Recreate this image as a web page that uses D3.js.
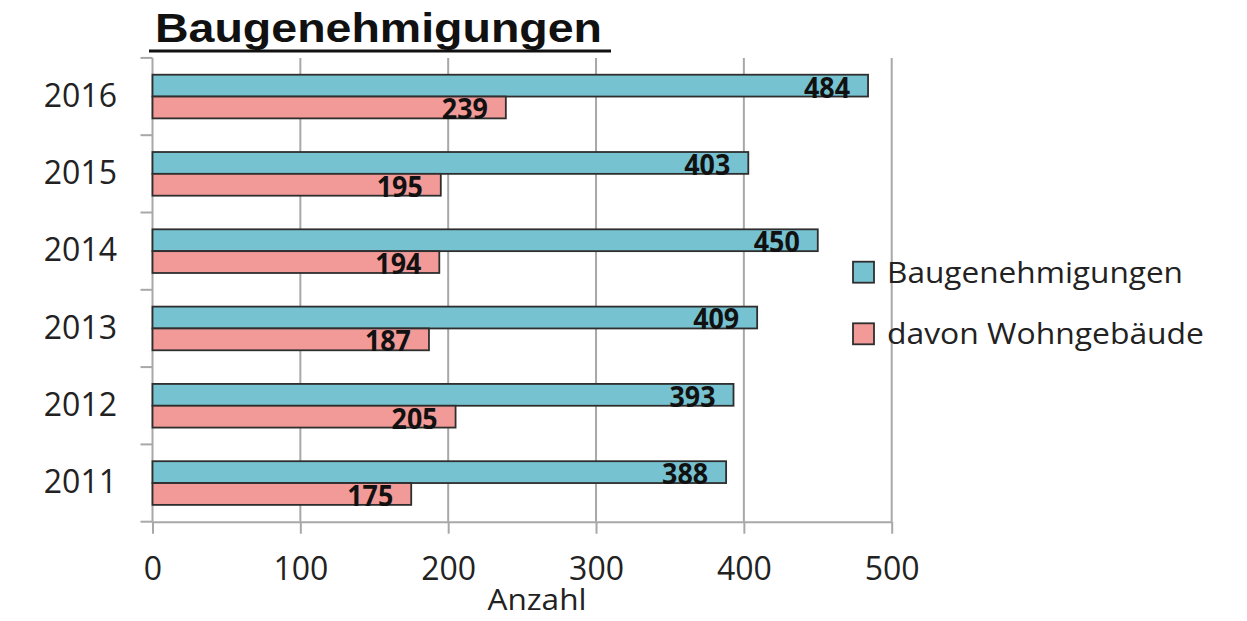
<!DOCTYPE html>
<html>
<head>
<meta charset="utf-8">
<script src="https://cdn.jsdelivr.net/npm/d3@7"></script>
<style>
  html, body { margin: 0; padding: 0; background: #fff; }
  svg { display: block; }
</style>
</head>
<body>
<svg id="chart" width="1247" height="621"></svg>
<script>
// Years, top to bottom as drawn
const years = ["2016", "2015", "2014", "2013", "2012", "2011"];
// Total building permits per year
const permits = [484, 403, 450, 409, 393, 388];
// Of which residential buildings
const residential = [239, 195, 194, 187, 205, 175];
const seriesNames = ["Baugenehmigungen", "davon Wohngebäude"];
const seriesColors = ["#77c2d0", "#f19a98"];
const xTicks = [0, 100, 200, 300, 400, 500];

const svg = d3.select("#chart");
const plotLeft = 152.5, plotRight = 891.7, plotTop = 57.9, plotBottom = 521.7;
const gridColor = "#a8a8a8";
const axisFont = "'Open Sans', 'DejaVu Sans', sans-serif";

const x = d3.scaleLinear().domain([0, 500]).range([plotLeft, plotRight]);
const y = d3.scaleBand().domain(years).range([plotTop, plotBottom]).padding(0);
const ySub = d3.scaleBand().domain(seriesNames).range([0, y.bandwidth()])
  .paddingInner(0).paddingOuter(0.77);

// Title with underline
svg.append("text")
  .attr("x", 155).attr("y", 42)
  .attr("font-family", "'Liberation Sans', Arial, sans-serif")
  .attr("font-weight", "bold").attr("font-size", 41)
  .attr("textLength", 447).attr("lengthAdjust", "spacingAndGlyphs")
  .attr("fill", "#111")
  .text("Baugenehmigungen");
svg.append("line")
  .attr("x1", 149).attr("x2", 611).attr("y1", 51).attr("y2", 51)
  .attr("stroke", "#111").attr("stroke-width", 3);

// Vertical gridlines
svg.append("g").selectAll("line")
  .data(xTicks.filter(t => t > 0))
  .join("line")
  .attr("x1", d => x(d)).attr("x2", d => x(d))
  .attr("y1", plotTop).attr("y2", plotBottom)
  .attr("stroke", gridColor).attr("stroke-width", 2);

// X axis
const xAxis = svg.append("g")
  .attr("transform", `translate(0,${plotBottom})`)
  .call(d3.axisBottom(x).tickValues(xTicks).tickSizeInner(12).tickSizeOuter(0).tickPadding(24));
xAxis.select(".domain").attr("stroke", gridColor).attr("stroke-width", 2);
xAxis.selectAll(".tick line").attr("stroke", gridColor).attr("stroke-width", 2);
xAxis.selectAll(".tick text")
  .attr("font-family", axisFont).attr("font-size", 32).attr("fill", "#222");

// Y axis: labels centred on each band, tick marks on the band boundaries
const yAxis = svg.append("g")
  .attr("transform", `translate(${plotLeft},0)`)
  .call(d3.axisLeft(y).tickSize(0).tickPadding(35.5));
yAxis.select(".domain").remove();
yAxis.selectAll(".tick text")
  .attr("font-family", axisFont).attr("font-size", 32).attr("fill", "#222");

const boundaries = years.map(d => y(d)).concat([y(years[years.length - 1]) + y.bandwidth()]);
svg.append("g").selectAll("line")
  .data(boundaries)
  .join("line")
  .attr("x1", plotLeft - 12).attr("x2", plotLeft)
  .attr("y1", d => d).attr("y2", d => d)
  .attr("stroke", gridColor).attr("stroke-width", 2);
svg.append("line")
  .attr("x1", plotLeft).attr("x2", plotLeft).attr("y1", plotTop).attr("y2", plotBottom)
  .attr("stroke", gridColor).attr("stroke-width", 2);

// Bars
const rows = years.map((yr, i) => ({ yr, values: [permits[i], residential[i]] }));
const groups = svg.append("g").selectAll("g")
  .data(rows)
  .join("g")
  .attr("transform", d => `translate(0,${y(d.yr)})`);

const bars = groups.selectAll("g")
  .data(d => d.values.map((v, j) => ({ v, name: seriesNames[j], color: seriesColors[j] })))
  .join("g");

bars.append("rect")
  .attr("x", x(0))
  .attr("y", d => ySub(d.name))
  .attr("width", d => x(d.v) - x(0))
  .attr("height", ySub.bandwidth())
  .attr("fill", d => d.color)
  .attr("stroke", "#2e2e2e").attr("stroke-width", 1.8);

bars.append("text")
  .attr("x", d => x(d.v) - 18)
  .attr("y", d => ySub(d.name) + ySub.bandwidth() + 1)
  .attr("text-anchor", "end")
  .attr("font-family", axisFont).attr("font-weight", "bold")
  .attr("font-size", 28).attr("fill", "#111")
  .attr("textLength", 46).attr("lengthAdjust", "spacingAndGlyphs")
  .text(d => d.v);

// X axis title
svg.append("text")
  .attr("x", 537).attr("y", 610)
  .attr("text-anchor", "middle")
  .attr("font-family", axisFont).attr("font-size", 29).attr("fill", "#222")
  .attr("textLength", 99).attr("lengthAdjust", "spacingAndGlyphs")
  .text("Anzahl");

// Legend
const legend = svg.append("g").selectAll("g")
  .data(seriesNames.map((n, i) => ({ n, c: seriesColors[i], w: [296, 317][i] })))
  .join("g")
  .attr("transform", (d, i) => `translate(853,${261.7 + i * 61.6})`);
legend.append("rect")
  .attr("width", 21).attr("height", 21)
  .attr("fill", d => d.c).attr("stroke", "#2e2e2e").attr("stroke-width", 1.8);
legend.append("text")
  .attr("x", 34).attr("y", 21)
  .attr("font-family", axisFont).attr("font-size", 29).attr("fill", "#222")
  .attr("textLength", d => d.w).attr("lengthAdjust", "spacingAndGlyphs")
  .text(d => d.n);
</script>
</body>
</html>
